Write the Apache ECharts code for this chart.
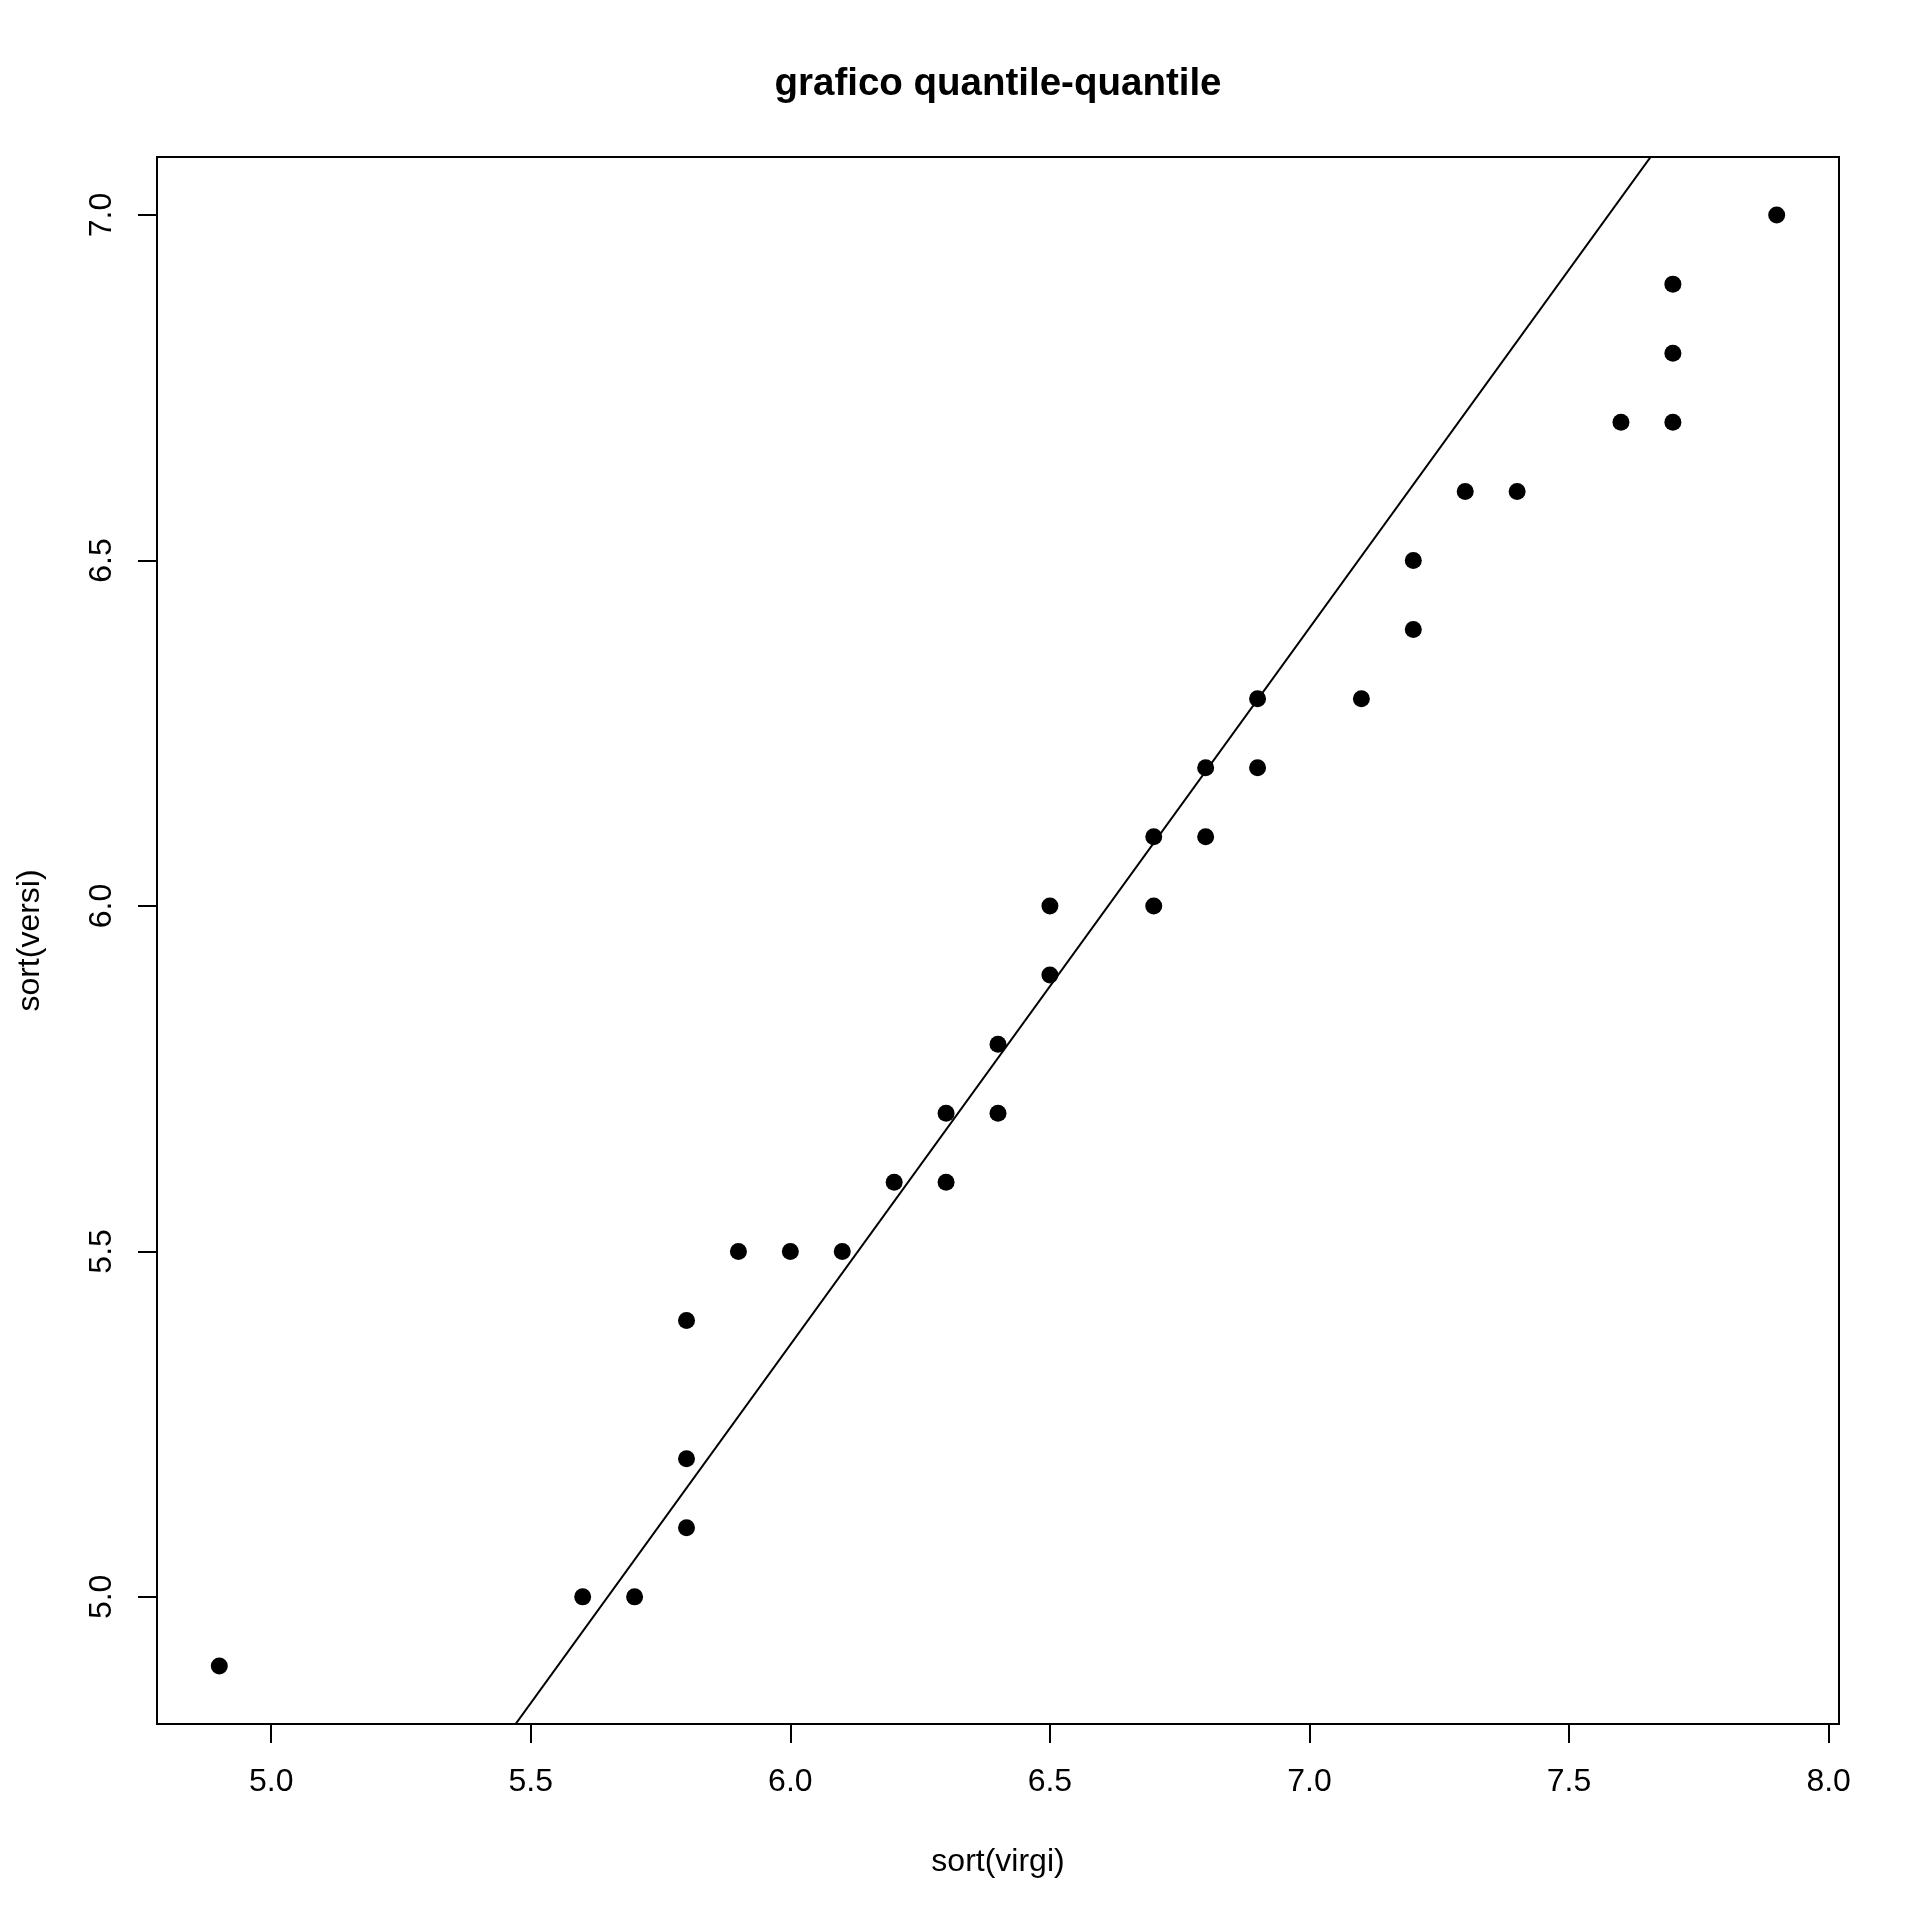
<!DOCTYPE html>
<html>
<head>
<meta charset="utf-8">
<script src="https://cdn.jsdelivr.net/npm/echarts@6/dist/echarts.min.js"></script>
<style>
  html, body { margin: 0; padding: 0; background: #fff; }
</style>
</head>
<body>
<div id="chart" style="width:1920px;height:1920px"></div>
<script>
// quantili ordinati
const virgi = [4.9, 5.6, 5.7, 5.8, 5.8, 5.8, 5.9, 6.0, 6.1, 6.2, 6.3, 6.3, 6.4, 6.4, 6.5, 6.5,
  6.7, 6.7, 6.8, 6.8, 6.9, 6.9, 7.1, 7.2, 7.2, 7.3, 7.4, 7.6, 7.7, 7.7, 7.7, 7.9]
const versi = [4.9, 5.0, 5.0, 5.1, 5.2, 5.4, 5.5, 5.5, 5.5, 5.6, 5.6, 5.7, 5.7, 5.8, 5.9, 6.0,
  6.0, 6.1, 6.1, 6.2, 6.2, 6.3, 6.3, 6.4, 6.5, 6.6, 6.6, 6.7, 6.7, 6.8, 6.9, 7.0]

const xTicks = [5.0, 5.5, 6.0, 6.5, 7.0, 7.5, 8.0]
const yTicks = [5.0, 5.5, 6.0, 6.5, 7.0]

// retta di riferimento (abline)
const lineIntercept = -0.8594
const lineSlope = 1.0374

// limiti come in R (range +4%)
const xMin = 4.78, xMax = 8.02
const yMin = 4.816, yMax = 7.084

const points = virgi.map((v, i) => [v, versi[i]])
const refLine = [xMin, xMax].map(x => [x, lineIntercept + lineSlope * x])

const font = 'Liberation Sans, Arial, Helvetica, sans-serif'

const myChart = echarts.init(document.getElementById('chart'))
myChart.setOption({
  animation: false,
  backgroundColor: '#fff',
  title: {
    text: 'grafico quantile-quantile',
    left: 993,
    textAlign: 'center',
    top: 60,
    textStyle: {
      color: '#000',
      fontWeight: 'bold',
      fontSize: 38.5,
      fontFamily: font
    }
  },
  grid: {
    left: 157,
    right: 81,
    top: 157,
    bottom: 196,
    show: true,
    borderColor: '#000',
    borderWidth: 2,
    backgroundColor: 'transparent'
  },
  xAxis: {
    type: 'value',
    min: xMin,
    max: xMax,
    name: 'sort(virgi)',
    nameLocation: 'middle',
    nameGap: 122,
    nameTextStyle: { color: '#000', fontSize: 32, fontFamily: font },
    splitLine: { show: false },
    axisLine: { show: false },
    axisTick: {
      show: true,
      length: 19,
      customValues: xTicks,
      lineStyle: { color: '#000', width: 2 }
    },
    axisLabel: {
      customValues: xTicks,
      margin: 42,
      color: '#000',
      fontSize: 32,
      fontFamily: font,
      formatter: v => v.toFixed(1)
    }
  },
  yAxis: {
    type: 'value',
    min: yMin,
    max: yMax,
    name: 'sort(versi)',
    nameLocation: 'middle',
    nameGap: 111,
    nameTextStyle: { color: '#000', fontSize: 32, fontFamily: font },
    splitLine: { show: false },
    axisLine: { show: false },
    axisTick: {
      show: true,
      length: 19,
      customValues: yTicks,
      lineStyle: { color: '#000', width: 2 }
    },
    axisLabel: {
      customValues: yTicks,
      rotate: 90,
      margin: 39,
      color: '#000',
      fontSize: 32,
      fontFamily: font,
      formatter: v => v.toFixed(1)
    }
  },
  series: [
    {
      type: 'line',
      data: refLine,
      showSymbol: false,
      clip: true,
      silent: true,
      lineStyle: { color: '#000', width: 2 },
      z: 1
    },
    {
      type: 'scatter',
      data: points,
      symbol: 'circle',
      symbolSize: 17,
      itemStyle: { color: '#000', opacity: 1 },
      z: 2
    }
  ]
})
</script>
</body>
</html>
